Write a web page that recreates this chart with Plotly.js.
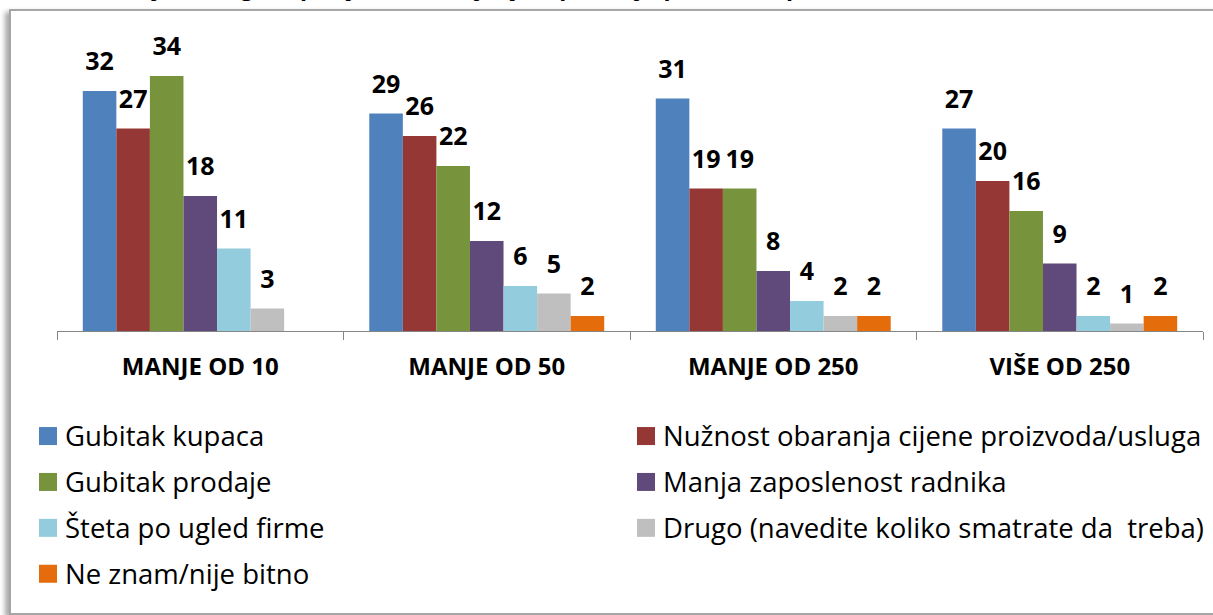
<!DOCTYPE html>
<html>
<head>
<meta charset="utf-8">
<script src="https://cdn.plot.ly/plotly-3.0.1.min.js"></script>
<style>
  html, body { margin: 0; padding: 0; background: #ffffff; overflow: hidden; }
  #frame { position: absolute; left: 9px; top: 9px; width: 1260px; height: 602px;
           border: 2px solid #a6a6a6; box-shadow: -4px 3px 5px rgba(0,0,0,0.35); background: #fff; }
  #chart { position: absolute; left: 0; top: 0; width: 1213px; height: 615px; }
</style>
</head>
<body>
<div id="frame"></div>
<div id="chart"></div>
<script>
const categories = ["MANJE OD 10", "MANJE OD 50", "MANJE OD 250", "VIŠE OD 250"];
const seriesNames = [
  "Gubitak kupaca",
  "Nužnost obaranja cijene proizvoda/usluga",
  "Gubitak prodaje",
  "Manja zaposlenost radnika",
  "Šteta po ugled firme",
  "Drugo (navedite koliko smatrate da  treba)",
  "Ne znam/nije bitno"
];
const gubitakKupaca   = [32, 29, 31, 27];
const nuznostObaranja = [27, 26, 19, 20];
const gubitakProdaje  = [34, 22, 19, 16];
const manjaZaposlenost= [18, 12, 8, 9];
const stetaUgled      = [11, 6, 4, 2];
const drugo           = [3, 5, 2, 1];
const neZnam          = [null, 2, 2, 2];
const seriesValues = [gubitakKupaca, nuznostObaranja, gubitakProdaje, manjaZaposlenost, stetaUgled, drugo, neZnam];
const colors = ["#4F81BD", "#953735", "#77933C", "#604A7B", "#93CDDD", "#BFBFBF", "#E46C0A"];
const titleText = "Grafikon broj 11: Moguće posljedice kašnjenja u plaćanju po veličini preduzeća";

const FONT = "'Open Sans', Lato, sans-serif";

const traces = seriesNames.map((name, i) => ({
  type: "bar",
  name: '<span style="font-size:27.5px">' + name.replace(/  /g, " &nbsp;") + "</span>",
  x: categories,
  y: seriesValues[i],
  marker: { color: colors[i], line: { width: 0 } },
  text: seriesValues[i].map(v => v === null ? "" : String(v)),
  textposition: "outside",
  textfont: { family: FONT, size: 25, color: "#000000", weight: "bold" },
  cliponaxis: false,
  hoverinfo: "skip"
}));

const layout = {
  width: 1213,
  height: 615,
  paper_bgcolor: "rgba(0,0,0,0)",
  plot_bgcolor: "rgba(0,0,0,0)",
  margin: { l: 57, r: 10, t: 31, b: 284, autoexpand: false },
  barmode: "group",
  bargap: 0.18,
  bargroupgap: 0,
  showlegend: true,
  font: { family: FONT, color: "#000000" },
  xaxis: {
    type: "category",
    showline: true,
    linecolor: "#868686",
    linewidth: 1,
    ticks: "outside",
    tickson: "boundaries",
    ticklen: 8,
    tickcolor: "#868686",
    tickwidth: 1,
    showgrid: false,
    zeroline: false,
    ticklabelstandoff: 14,
    tickfont: { family: FONT, size: 24, color: "#000000", weight: "bold" }
  },
  yaxis: {
    range: [0, 40],
    visible: false,
    showgrid: false,
    zeroline: false
  },
  legend: {
    orientation: "h",
    x: (25 - 57) / 1146,
    xanchor: "left",
    y: -0.247,
    yanchor: "top",
    entrywidth: 553,
    entrywidthmode: "pixels",
    font: { family: FONT, size: 33, color: "#000000" },
    bgcolor: "rgba(0,0,0,0)",
    borderwidth: 0,
    traceorder: "normal",
    itemclick: false
  },
  annotations: [{
    text: "<b>" + titleText + "</b>",
    xref: "paper", yref: "paper",
    x: -0.045, xanchor: "left",
    y: 1.15, yanchor: "middle",
    showarrow: false,
    font: { family: FONT, size: 23, color: "#000000" }
  }]
};

Plotly.newPlot("chart", traces, layout, { staticPlot: true, displayModeBar: false }).then(gd => {
  document.querySelectorAll("#chart .bartext").forEach(t => {
    const tr = t.getAttribute("transform") || "";
    t.setAttribute("transform", "translate(0,-11) " + tr);
  });
  document.querySelectorAll("#chart .legendpoints path").forEach(p => {
    p.setAttribute("d", "M12,12H-6V-6H12Z");
  });
});
</script>
</body>
</html>
